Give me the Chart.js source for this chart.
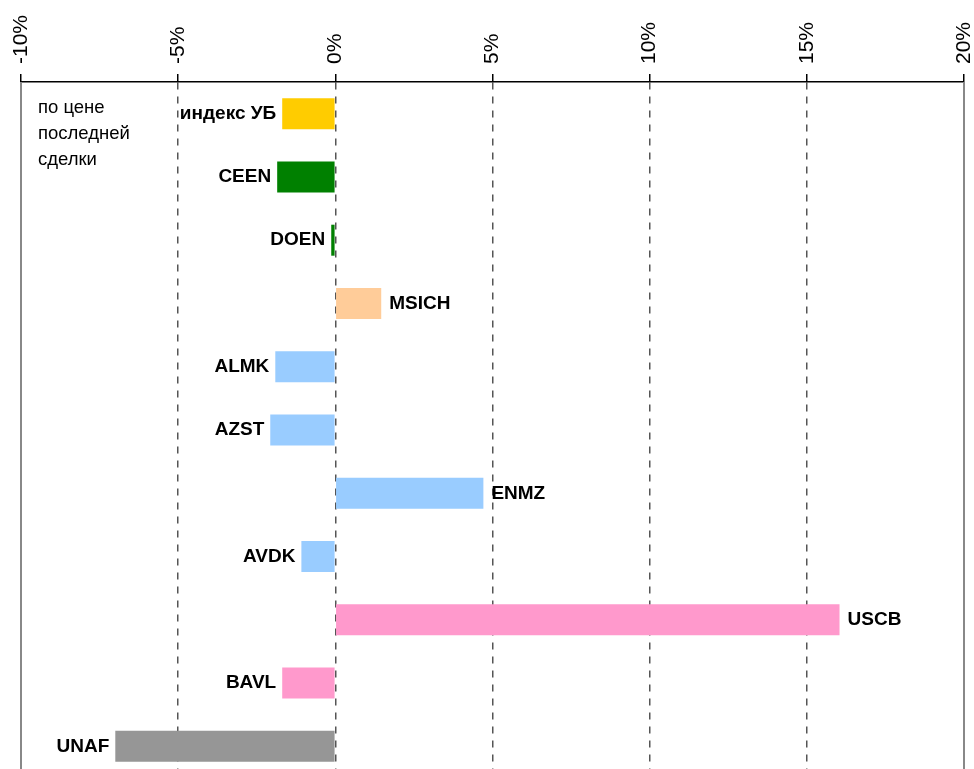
<!DOCTYPE html>
<html>
<head>
<meta charset="utf-8">
<script src="https://cdn.jsdelivr.net/npm/chart.js@4/dist/chart.umd.min.js"></script>
<style>
  html, body { margin: 0; padding: 0; background: #fff; overflow: hidden; }
  #wrap { width: 974px; height: 779px; position: relative; }
</style>
</head>
<body>
<div id="wrap"><canvas id="grafik"></canvas></div>
<script>
// kategoriler ve degerler (%)
var kategoriler = ['индекс УБ', 'CEEN', 'DOEN', 'MSICH', 'ALMK', 'AZST', 'ENMZ', 'AVDK', 'USCB', 'BAVL', 'UNAF'];
var degisim = [-1.69, -1.85, -0.13, 1.46, -1.91, -2.07, 4.71, -1.08, 16.04, -1.69, -7.0];
var renkler = ['#FFCC00', '#008000', '#008000', '#FFCC99', '#99CCFF', '#99CCFF', '#99CCFF', '#99CCFF', '#FF99CC', '#FF99CC', '#969696'];
var eksenMin = -10;
var eksenMax = 20;
var eksenAdim = 5;
var notSatirlari = ['по цене', 'последней', 'сделки'];

var FONT = '"Liberation Sans", Arial, sans-serif';

// bar etiketleri + not + cerceve
var etiketler = {
  id: 'etiketler',
  afterDatasetsDraw: function(chart) {
    var ctx = chart.ctx;
    var alan = chart.chartArea;
    var meta = chart.getDatasetMeta(0);

    ctx.save();
    // sol ve sag cerceve
    ctx.strokeStyle = '#888888';
    ctx.lineWidth = 2;
    ctx.beginPath();
    ctx.moveTo(alan.left, alan.top);
    ctx.lineTo(alan.left, alan.bottom);
    ctx.moveTo(alan.right, alan.top);
    ctx.lineTo(alan.right, alan.bottom);
    ctx.stroke();

    ctx.font = 'bold 19px ' + FONT;
    ctx.fillStyle = '#000';
    ctx.textBaseline = 'middle';
    for (var i = 0; i < meta.data.length; i++) {
      var bar = meta.data[i];
      if (degisim[i] < 0) {
        ctx.textAlign = 'right';
        ctx.fillText(kategoriler[i], bar.x - 6, bar.y);
      } else {
        ctx.textAlign = 'left';
        ctx.fillText(kategoriler[i], bar.x + 8, bar.y);
      }
    }

    ctx.font = '18.5px ' + FONT;
    ctx.textAlign = 'left';
    for (var j = 0; j < notSatirlari.length; j++) {
      ctx.fillText(notSatirlari[j], alan.left + 17, 108 + j * 26);
    }
    ctx.restore();
  }
};

var data = {
  labels: kategoriler,
  datasets: [{
    data: degisim,
    backgroundColor: renkler,
    borderWidth: 0,
    categoryPercentage: 1,
    barPercentage: 0.49
  }]
};

var options = {
  indexAxis: 'y',
  responsive: true,
  maintainAspectRatio: false,
  animation: false,
  layout: { padding: { left: 21, right: 10, top: 5, bottom: 1 } },
  plugins: {
    legend: { display: false },
    tooltip: { enabled: false }
  },
  scales: {
    x: {
      position: 'top',
      min: eksenMin,
      max: eksenMax,
      ticks: {
        stepSize: eksenAdim,
        maxRotation: 90,
        minRotation: 90,
        padding: 10,
        color: '#000',
        // lineHeight 0: dondurulmus etiketler tam tick ustunde dursun
        font: { family: FONT, size: 21, lineHeight: 0 },
        callback: function(v) { return v + '%'; }
      },
      grid: {
        color: function(c) {
          return (c.tick && (c.tick.value === eksenMin || c.tick.value === eksenMax)) ? 'rgba(0,0,0,0)' : '#555555';
        },
        lineWidth: 1.5,
        tickColor: '#000',
        tickLength: 8,
        tickBorderDash: [],
        drawOnChartArea: true
      },
      border: { display: true, color: '#000', width: 1.5, dash: [7, 7] }
    },
    y: {
      display: false,
      offset: true,
      grid: { display: false }
    }
  }
};

var ctx = document.getElementById('grafik').getContext('2d');
var chart = new Chart(ctx, { type: 'bar', data: data, options: options, plugins: [etiketler] });
</script>
</body>
</html>
